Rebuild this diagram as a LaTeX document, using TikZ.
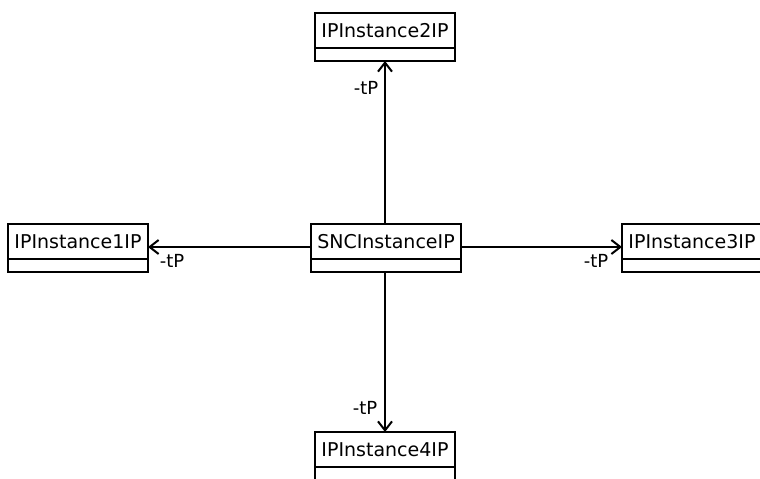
\documentclass[tikz,border=0pt]{standalone}
\usepackage{fontspec}
\setmainfont{DejaVu Sans}
\usetikzlibrary{arrows.meta}
\begin{document}
\begin{tikzpicture}[x=1pt,y=-1pt,
  clsname/.style={draw=black, line width=1.8pt, fill=white, minimum width=140pt, minimum height=35pt, inner sep=0pt, outer sep=0pt, anchor=north, font=\fontsize{19}{21}\selectfont},
  clsbody/.style={draw=black, line width=1.8pt, fill=white, minimum width=140pt, minimum height=13pt, inner sep=0pt, outer sep=0pt, anchor=north},
  assoc/.style={line width=1.3pt, -{Straight Barb[length=9pt,width=14pt,line width=2pt]}},
  role/.style={font=\fontsize{18}{20}\selectfont, inner sep=0pt}]
\useasboundingbox (0,0) rectangle (760,479);
\begin{scope}
\clip (0,0) rectangle (760,479);
\node[clsname] (b2) at (385,13) {IPInstance2IP};
\node[clsbody] (b2x) at (b2.south) {};
\node[clsname] (b1) at (78,224) {IPInstance1IP};
\node[clsbody] (b1x) at (b1.south) {};
\node[clsname, minimum width=150pt] (snc) at (386,224) {SNCInstanceIP};
\node[clsbody, minimum width=150pt] (sncx) at (snc.south) {};
\node[clsname] (b3) at (692,224) {IPInstance3IP};
\node[clsbody] (b3x) at (b3.south) {};
\node[clsname] (b4) at (385,432) {IPInstance4IP};
\node[clsbody] (b4x) at (b4.south) {};
\coordinate (sl) at (snc.west |- 0,247);
\coordinate (sr) at (snc.east |- 0,247);
\draw[assoc] (snc.north -| 385,0) -- (b2x.south);
\draw[assoc] (sl) -- (b1.east |- sl);
\draw[assoc] (sr) -- (b3.west |- sr);
\draw[assoc] (sncx.south -| 385,0) -- (b4.north);
\node[role] (l2) at (366,88) {-tP};
\node[role] (l1) at (172,261) {-tP};
\node[role] (l3) at (596,261) {-tP};
\node[role] (l4) at (365,408) {-tP};
\end{scope}
\end{tikzpicture}
\end{document}
